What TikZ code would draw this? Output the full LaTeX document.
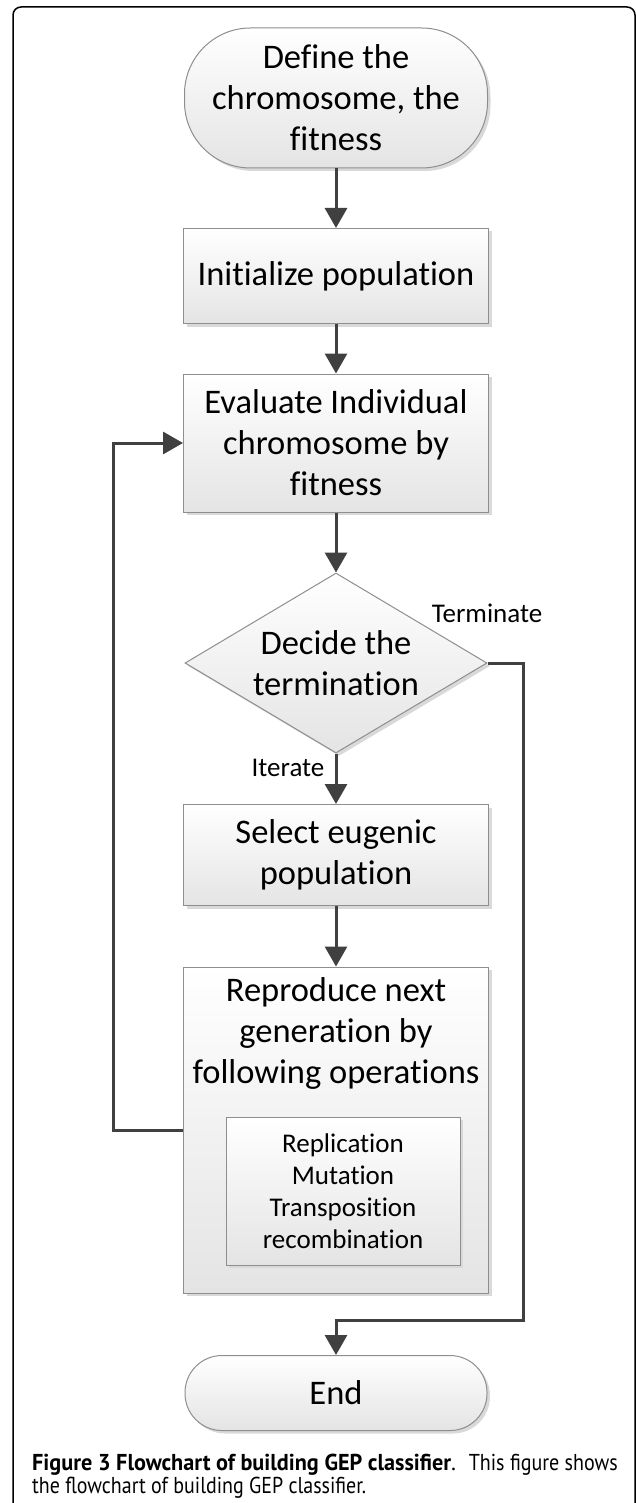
\documentclass[tikz,border=0pt]{standalone}
\usepackage{graphicx}
\usepackage{fontspec}
\setmainfont{Carlito}[Ligatures=NoCommon]
\newfontfamily\capfont{PT Sans}
\usetikzlibrary{arrows.meta,shapes.geometric,shadows}
\definecolor{boxborder}{HTML}{8E8E8E}
\definecolor{boxbottom}{HTML}{E4E4E4}
\definecolor{arrowcol}{HTML}{404040}
\begin{document}
\begin{tikzpicture}[x=1pt,y=-1pt,
  bigtext/.style={font=\fontsize{34.5}{41}\selectfont},
  smalltext/.style={font=\fontsize{27}{32}\selectfont},
  shape3d/.style={draw=boxborder, line width=1pt, top color=white, bottom color=boxbottom,
    drop shadow={shadow xshift=3pt, shadow yshift=-3pt, fill=black!15, opacity=1},
    align=center, inner sep=0pt},
  procbox/.style={shape3d, rectangle, bigtext},
  termbox/.style={shape3d, rectangle, bigtext},
  decbox/.style={shape3d, diamond, aspect=1.68, bigtext},
  arr/.style={draw=arrowcol, line width=3pt, -{Triangle[length=20pt,width=22pt]}},
  lbl/.style={smalltext, inner sep=0pt},
  captext/.style={inner sep=0pt, font=\capfont\fontsize{23}{24}\selectfont}
]
\useasboundingbox (0,0) rectangle (636,1503);
% frame
\draw[line width=1.5pt, rounded corners=8pt] (13,1504) -- (13,7) -- (635,7) -- (635,1504);

\node[termbox, rounded corners=66pt, minimum width=303pt, minimum height=140pt] (start) at (336,98)
  {Define the\\chromosome, the\\fitness};
\node[procbox, minimum width=305pt, minimum height=95pt] (init) at (336,276) {Initialize population};
\node[procbox, minimum width=305pt, minimum height=138pt] (eval) at (336,443)
  {Evaluate Individual\\chromosome by\\fitness};
\node[decbox, minimum width=302pt, minimum height=180pt] (dec) at (336,663) {Decide the\\termination};
\node[procbox, minimum width=305pt, minimum height=101pt] (sel) at (336,855) {Select eugenic\\population};
\node[procbox, minimum width=305pt, minimum height=326pt] (rep) at (336,1130) {};
\node[bigtext, align=center, inner sep=0pt, anchor=north] (reptxt) at (336,977)
  {Reproduce next\\generation by\\following operations};
\node[procbox, smalltext, minimum width=234pt, minimum height=148pt] (ops) at (343,1191)
  {Replication\\Mutation\\Transposition\\recombination};
\node[termbox, rounded corners=37pt, minimum width=302pt, minimum height=75pt] (end) at (336,1393) {End};

\coordinate (tr1) at (523,663);
\coordinate (tr2) at (523,1320);
\coordinate (tr3) at (336,1320);
\coordinate (lp1) at (113,1130);
\coordinate (lp2) at (113,443);

\draw[arr] (start) -- (init);
\draw[arr] (init) -- (eval);
\draw[arr] (eval) -- (dec);
\draw[arr] (dec) -- (sel);
\draw[arr] (sel) -- (rep);
\draw[arr] (rep.west) -- (lp1) -- (lp2) -- (eval.west);
\draw[arr] (dec.east) -- (tr1) -- (tr2) -- (tr3) -- (end.north);

\node[lbl] (term) at (487,613) {Terminate};
\node[lbl] (iter) at (288,768) {Iterate};

\node[captext, anchor=base west] (cap1a) at (32,1470)
  {\resizebox{419pt}{\height}{\bfseries Figure 3 Flowchart of building GEP classifier}.};
\node[captext, anchor=base east] (cap1b) at (618,1470)
  {\resizebox{149pt}{\height}{This figure shows}};
\node[captext, anchor=base west] (cap2) at (32,1493)
  {\resizebox{334pt}{\height}{the flowchart of building GEP classifier.}};
\end{tikzpicture}
\end{document}
